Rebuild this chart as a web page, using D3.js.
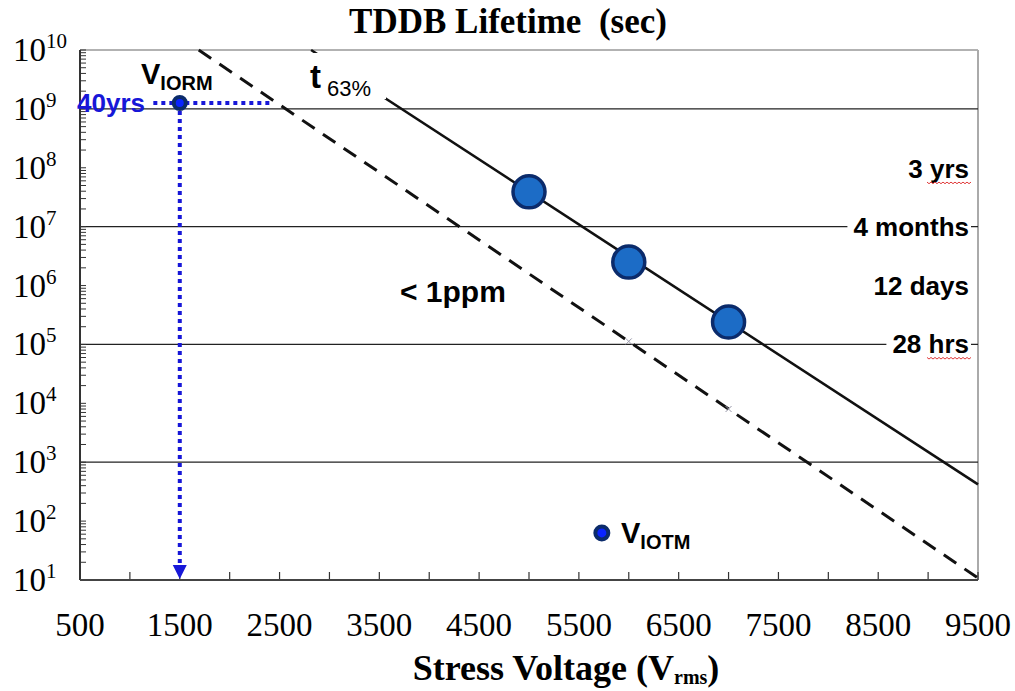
<!DOCTYPE html>
<html lang="en">
<head>
  <meta charset="UTF-8">
  <title>TDDB Lifetime</title>
  <script src="https://d3js.org/d3.v7.min.js"></script>
  <style>
    body { margin: 0; background: #fff; }
    .serif { font-family: "Liberation Serif", "Times New Roman", serif; }
    .sans { font-family: "Liberation Sans", Arial, sans-serif; font-weight: bold; }
  </style>
</head>
<body>
  <svg width="1015" height="691"></svg>

  <script>
    // x ticks (Vrms) and y decades (sec)
    const xTicks = [500, 1500, 2500, 3500, 4500, 5500, 6500, 7500, 8500, 9500];
    const yDecades = [1, 2, 3, 4, 5, 6, 7, 8, 9, 10];
    const gridDecades = [3, 5, 7, 9];

    // measured points on the t63% line
    const stressV = [5000, 6000, 7000];
    const lifetime = [3.9e7, 2.5e6, 2.4e5];

    // extrapolated lines (end points)
    const t63Line = [[2816, 1e10], [9500, 420]];
    const ppmLine = [[1690, 1e10], [9500, 10.8]];
    const ppmMarks = [6000, 7000];

    // operating points
    const viorm = { v: 1500, t: 1.26e9, lineFrom: 1235, lineTo: 2400 };
    const viotm = { v: 5730, t: 63 };

    // right hand time labels
    const timeLabels = [
      { text: "3 yrs", t: 9.5e7, squiggle: true },
      { text: "4 months", t: 1e7, box: true },
      { text: "12 days", t: 1e6 },
      { text: "28 hrs", t: 1e5, box: true, squiggle: true }
    ];

    const mLeft = 80, mRight = 978, mTop = 50, mBottom = 580;
    const svg = d3.select("svg");

    const x = d3.scaleLinear().domain([500, 9500]).range([mLeft, mRight]);
    const y = d3.scaleLog().domain([10, 1e10]).range([mBottom, mTop]);

    // title
    svg.append("text").attr("class", "serif")
      .attr("x", 508).attr("y", 33)
      .attr("text-anchor", "middle")
      .style("font-size", "35px").style("font-weight", "bold")
      .style("white-space", "pre")
      .text("TDDB Lifetime  (sec)");

    // frame: top + right in grey
    svg.append("line").attr("x1", mLeft).attr("x2", mRight).attr("y1", mTop).attr("y2", mTop)
      .attr("stroke", "#999").attr("stroke-width", 1.5);
    svg.append("line").attr("x1", mRight).attr("x2", mRight).attr("y1", mTop).attr("y2", mBottom)
      .attr("stroke", "#aaa").attr("stroke-width", 2);

    // horizontal grid lines
    svg.append("g").selectAll("line")
      .data(gridDecades)
      .join("line")
      .attr("x1", mLeft).attr("x2", mRight)
      .attr("y1", d => y(Math.pow(10, d))).attr("y2", d => y(Math.pow(10, d)))
      .attr("stroke", "#222").attr("stroke-width", 1.2);

    // y minor ticks (log)
    const yTickVals = [];
    for (let e = 1; e < 10; e++) {
      for (let m = 1; m < 10; m++) yTickVals.push(m * Math.pow(10, e));
    }
    yTickVals.push(1e10);
    svg.append("g").selectAll("line")
      .data(yTickVals)
      .join("line")
      .attr("x1", mLeft).attr("x2", mLeft + 6)
      .attr("y1", d => y(d)).attr("y2", d => y(d))
      .attr("stroke", "#333").attr("stroke-width", 1);

    // x ticks every 500 V
    svg.append("g").selectAll("line")
      .data(d3.range(500, 9501, 500))
      .join("line")
      .attr("x1", d => x(d)).attr("x2", d => x(d))
      .attr("y1", mBottom).attr("y2", mBottom - 8)
      .attr("stroke", "#333").attr("stroke-width", 1.2);

    // axes lines
    svg.append("line").attr("x1", mLeft).attr("x2", mLeft).attr("y1", mTop).attr("y2", mBottom)
      .attr("stroke", "#333").attr("stroke-width", 2);
    svg.append("line").attr("x1", mLeft).attr("x2", mRight).attr("y1", mBottom).attr("y2", mBottom)
      .attr("stroke", "#444").attr("stroke-width", 2);

    // y labels 10^n
    const yl = svg.append("g").selectAll("text")
      .data(yDecades)
      .join("text")
      .attr("class", "serif")
      .attr("x", 13)
      .attr("y", d => y(Math.pow(10, d)) + 11)
      .style("font-size", "33px");
    yl.append("tspan").text("10");
    yl.append("tspan").attr("dy", -13).style("font-size", "21px").text(d => d);

    // x labels
    svg.append("g").selectAll("text")
      .data(xTicks)
      .join("text")
      .attr("class", "serif")
      .attr("x", d => x(d)).attr("y", 636)
      .attr("text-anchor", "middle")
      .style("font-size", "33px")
      .text(d => d);

    // x axis title
    const xt = svg.append("text").attr("class", "serif")
      .attr("x", 566).attr("y", 680)
      .attr("text-anchor", "middle")
      .style("font-size", "36px").style("font-weight", "bold");
    xt.append("tspan").text("Stress Voltage (V");
    xt.append("tspan").attr("dy", 4).style("font-size", "20px").text("rms");
    xt.append("tspan").attr("dy", -4).text(")");

    const line = d3.line().x(d => x(d[0])).y(d => y(d[1]));

    // < 1ppm dashed line
    svg.append("path")
      .attr("d", line(ppmLine))
      .attr("fill", "none").attr("stroke", "#111")
      .attr("stroke-width", 3).attr("stroke-dasharray", "15,10");

    // small grey marks on the dashed line
    const ppmAt = v => {
      const f = (v - ppmLine[0][0]) / (ppmLine[1][0] - ppmLine[0][0]);
      return Math.pow(10, Math.log10(ppmLine[0][1]) + f * (Math.log10(ppmLine[1][1]) - Math.log10(ppmLine[0][1])));
    };
    svg.append("g").selectAll("path")
      .data(ppmMarks)
      .join("path")
      .attr("d", d => {
        const cx = x(d), cy = y(ppmAt(d));
        return `M${cx - 3},${cy - 3}L${cx + 3},${cy + 3}M${cx - 3},${cy + 3}L${cx + 3},${cy - 3}`;
      })
      .attr("stroke", "#99a").attr("stroke-width", 1);

    // t63% solid line
    svg.append("path")
      .attr("d", line(t63Line))
      .attr("fill", "none").attr("stroke", "#111")
      .attr("stroke-width", 2.6);

    // white box behind t63% label (cuts the line)
    svg.append("rect").attr("x", 300).attr("y", 53).attr("width", 86).attr("height", 46).attr("fill", "#fff");

    // t63% label
    const tl = svg.append("text").attr("class", "sans").attr("x", 310).attr("y", 88);
    tl.append("tspan").style("font-size", "33px").text("t");
    tl.append("tspan").attr("dx", 6).attr("dy", 8).style("font-size", "22px").style("font-weight", "normal").text("63%");

    // measured points
    svg.append("g").selectAll("circle")
      .data(stressV)
      .join("circle")
      .attr("cx", d => x(d))
      .attr("cy", (d, i) => y(lifetime[i]))
      .attr("r", 16)
      .attr("fill", "#1c6cc6")
      .attr("stroke", "#0b2b6b").attr("stroke-width", 3.5);

    // < 1ppm label
    svg.append("text").attr("class", "sans")
      .attr("x", 400).attr("y", 302)
      .style("font-size", "30px")
      .text("< 1ppm");

    // VIORM dotted lines
    const blue = "#1717d8";
    svg.append("line")
      .attr("x1", x(viorm.lineFrom)).attr("x2", x(viorm.lineTo))
      .attr("y1", y(viorm.t)).attr("y2", y(viorm.t))
      .attr("stroke", blue).attr("stroke-width", 4).attr("stroke-dasharray", "4,4");
    svg.append("line")
      .attr("x1", x(viorm.v)).attr("x2", x(viorm.v))
      .attr("y1", y(viorm.t)).attr("y2", mBottom - 14)
      .attr("stroke", blue).attr("stroke-width", 4).attr("stroke-dasharray", "4,4");
    svg.append("path")
      .attr("d", `M${x(viorm.v) - 7},${mBottom - 15}L${x(viorm.v) + 7},${mBottom - 15}L${x(viorm.v)},${mBottom - 1}Z`)
      .attr("fill", blue);

    svg.append("circle")
      .attr("cx", x(viorm.v)).attr("cy", y(viorm.t)).attr("r", 6)
      .attr("fill", "#0a24ff").attr("stroke", "#0b2b6b").attr("stroke-width", 4);

    svg.append("text").attr("class", "sans")
      .attr("x", 77).attr("y", 112)
      .attr("fill", blue)
      .style("font-size", "26px")
      .text("40yrs");

    const vr = svg.append("text").attr("class", "sans").attr("x", 141).attr("y", 84);
    vr.append("tspan").style("font-size", "29px").text("V");
    vr.append("tspan").attr("dy", 6).style("font-size", "20px").text("IORM");

    // VIOTM point
    svg.append("circle")
      .attr("cx", x(viotm.v)).attr("cy", y(viotm.t)).attr("r", 6.5)
      .attr("fill", "#0a24ff").attr("stroke", "#0b2b6b").attr("stroke-width", 4);
    const vo = svg.append("text").attr("class", "sans").attr("x", 621).attr("y", 543);
    vo.append("tspan").style("font-size", "29px").text("V");
    vo.append("tspan").attr("dy", 6).style("font-size", "20px").text("IOTM");

    // right labels
    const rl = svg.append("g").selectAll("g")
      .data(timeLabels)
      .join("g");
    rl.append("text").attr("class", "sans")
      .attr("x", 969).attr("y", d => y(d.t) + 9)
      .attr("text-anchor", "end")
      .style("font-size", "26px")
      .text(d => d.text);
    // white boxes that cut the grid lines behind the labels
    rl.filter(d => d.box).each(function (d) {
      const bb = d3.select(this).select("text").node().getBBox();
      d3.select(this).insert("rect", "text")
        .attr("x", bb.x - 6).attr("y", y(d.t) - 14)
        .attr("width", bb.width + 8).attr("height", 28)
        .attr("fill", "#fff");
    });
    // spell-check squiggles under the last word
    rl.filter(d => d.squiggle).append("path")
      .attr("d", d => {
        const yy = y(d.t) + 13;
        let p = `M927,${yy}`;
        for (let xx = 929, k = 0; xx <= 972; xx += 2, k++) p += `L${xx},${yy + (k % 2 ? 0 : 1.6)}`;
        return p;
      })
      .attr("fill", "none").attr("stroke", "#e03a3a").attr("stroke-width", 1);
  </script>
</body>
</html>
